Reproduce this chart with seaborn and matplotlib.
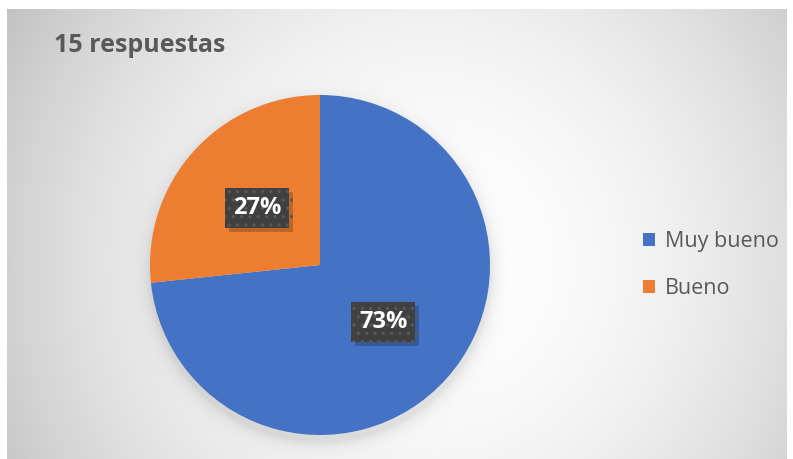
import numpy as np
import matplotlib
matplotlib.use("Agg")
import matplotlib.pyplot as plt
import matplotlib.patheffects as pe
from matplotlib.patches import Patch
import seaborn as sns

# ---- data ----
categories = ["Muy bueno", "Bueno"]
counts = [11, 4]
colors = ["#4472C4", "#ED7D31"]
title = "15 respuestas"

sns.set_theme(style="white")
plt.rcParams["font.family"] = ["Open Sans", "DejaVu Sans"]
plt.rcParams["hatch.linewidth"] = 1.2

W, H = 793, 459
fig = plt.figure(figsize=(W / 100, H / 100), dpi=100)

# ---- background: radial gradient chart area with pie shadow ----
yy, xx = np.mgrid[0:H, 0:W].astype(float)
cx, cy = 430.0, 262.0
g = 1 - 0.17 * ((xx - cx) / 413.0) ** 2 - 0.06 * ((yy - cy) / 251.0) ** 2
g = np.clip(g, 0.74, 1.0)
# soft shadow under pie
pcx, pcy, pr = 320.0, 271.0, 170.0
d = np.hypot(xx - pcx, yy - pcy) - pr
sh = 0.10 * np.exp(-np.clip(d, 0, None) / 7.0)
sh[d < -30] = 0.10
g = g - sh
g[(xx < 7) | (yy < 9) | (xx > 786)] = 1.0
img = np.dstack([g, g, g])
bg = fig.add_axes([0, 0, 1, 1])
bg.imshow(img, extent=(0, W, H, 0), aspect="auto", interpolation="bilinear")
bg.set_xlim(0, W)
bg.set_ylim(H, 0)
bg.axis("off")

# ---- title ----
fig.text(54 / W, 1 - 46 / H, title, fontsize=18, fontweight="bold",
         color="#595959", ha="left", va="center")

# ---- pie ----
ax = fig.add_axes([150 / W, (H - 265 - 170) / H, 340 / W, 340 / H])
wedges, texts, autotexts = ax.pie(
    counts, colors=colors, startangle=90, counterclock=False,
    autopct="%.0f%%", pctdistance=0.5,
    wedgeprops=dict(linewidth=0),
    textprops=dict(color="white", fontsize=17, fontweight="bold"),
)
ax.set_xlim(-1, 1)
ax.set_ylim(-1, 1)
ax.set_aspect("auto")
ax.axis("off")
ax.patch.set_alpha(0)

for t in autotexts:
    t.set_bbox(dict(boxstyle="square,pad=0.33", facecolor="#404040",
                    edgecolor="#585858", linewidth=0, hatch=".."))
    bp = t.get_bbox_patch()
    bp.set_path_effects([pe.SimplePatchShadow(offset=(3, -3), shadow_rgbFace="black", alpha=0.2),
                         pe.Normal()])

# ---- legend ----
handles = [Patch(facecolor=c, edgecolor="none") for c in colors]
leg = fig.legend(handles, categories, loc="center left",
                 bbox_to_anchor=(624 / W, 1 - 265 / H), frameon=False,
                 fontsize=15.5, labelcolor="#595959", handlelength=0.55,
                 handleheight=0.55, handletextpad=0.45, labelspacing=1.2)

fig.savefig("out.png", dpi=100)
